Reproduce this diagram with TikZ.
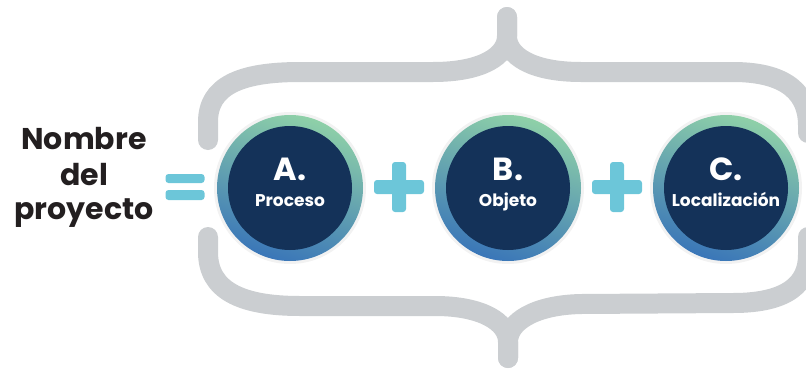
\documentclass[tikz,border=0pt]{standalone}
\usepackage{fontspec}
\usetikzlibrary{calc}
\setmainfont{Poppins}
\definecolor{bracegray}{HTML}{CBCED1}
\definecolor{navy}{HTML}{143259}
\definecolor{ringgreen}{HTML}{8ED0A8}
\definecolor{ringmid}{HTML}{5E9DB6}
\definecolor{ringblue}{HTML}{3A76B8}
\definecolor{plusblue}{HTML}{6CC6D9}
\definecolor{textdark}{HTML}{231F20}
\tikzset{
  bracestroke/.style={draw=bracegray, line width=20pt, line cap=round},
  ringnode/.style={circle, minimum size=146pt, inner sep=0pt, top color=ringgreen, middle color=ringmid, bottom color=ringblue, shading angle=-18},
  corenode/.style={circle, minimum size=124pt, inner sep=0pt, fill=navy},
  glownode/.style={circle, minimum size=152pt, inner sep=0pt, fill=black, opacity=0.05},
  letter/.style={text=white, font=\bfseries\fontsize{32}{32}\selectfont, anchor=base},
  word/.style={text=white, font=\bfseries\fontsize{17}{17}\selectfont, anchor=base},
  bar/.style={fill=plusblue, rounded corners=3pt},
  title/.style={text=textdark, font=\bfseries\fontsize{30}{35}\selectfont, anchor=base}
}
\begin{document}
\begin{tikzpicture}[x=1pt,y=-1pt]
\useasboundingbox (0,0) rectangle (806,370);
% braces
\draw[bracestroke] (208,140) -- (208,122) .. controls (208,86) and (240,72) .. (300,72) -- (433,72) .. controls (482,72) and (507,56) .. (507,36) -- (507,17);
\draw[bracestroke] (507,17) -- (507,36) .. controls (507,56) and (532,72) .. (581,72) -- (733,72) .. controls (790,72) and (808,96) .. (808,125) -- (808,133);
\draw[bracestroke] (208,237) -- (208,252) .. controls (208,290) and (240,306) .. (300,306) -- (435,306) .. controls (482,306) and (508,322) .. (508,342) -- (508,358);
\draw[bracestroke] (508,358) -- (508,342) .. controls (508,322) and (534,305) .. (581,304) -- (733,303) .. controls (790,303) and (808,282) .. (808,255) -- (808,237);
% circles
\foreach \n/\x in {A/290,B/508,C/726}{
  \node[glownode] (g\n) at (\x,188) {};
  \node[ringnode] (r\n) at (\x,188) {};
  \node[corenode] (c\n) at (\x,188) {};
}
\node[letter] (lA) at (290,180) {A.};
\node[word] (wA) at (290,206) {Proceso};
\node[letter] (lB) at (508,180) {B.};
\node[word] (wB) at (508,206) {Objeto};
\node[letter] (lC) at (726,180) {C.};
\node[word] (wC) at (726,206) {Localización};
% plus signs
\foreach \n/\x in {p1/399,p2/617}{
  \coordinate (\n) at (\x,187);
  \fill[bar] ($(\n)+(-25,-7)$) rectangle ($(\n)+(25,7)$);
  \fill[bar] ($(\n)+(-7,-25)$) rectangle ($(\n)+(7,25)$);
}
% equals
\coordinate (eq) at (185,187);
\fill[bar] ($(eq)+(-19.5,-13)$) rectangle ($(eq)+(19.5,-4)$);
\fill[bar] ($(eq)+(-19.5,3)$) rectangle ($(eq)+(19.5,13)$);
% title
\node[title] (t1) at (84,149) {Nombre};
\node[title] (t2) at (84,185) {del};
\node[title] (t3) at (84,219) {proyecto};
\end{tikzpicture}
\end{document}
